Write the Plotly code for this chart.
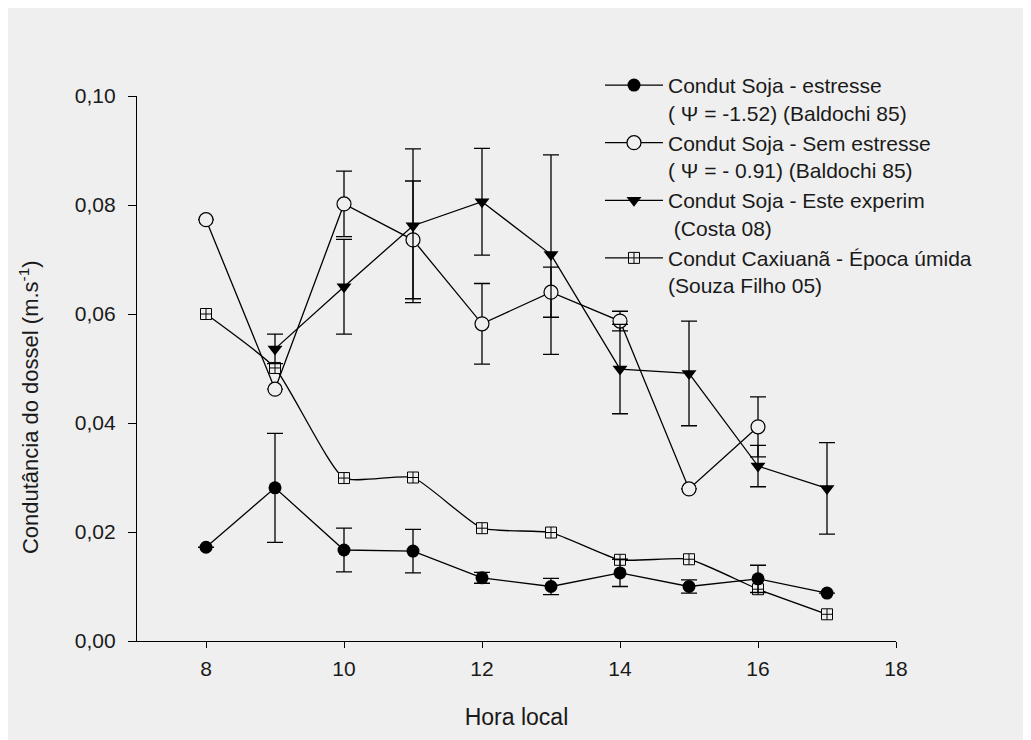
import plotly.graph_objects as go

# Hora local
horas = [8, 9, 10, 11, 12, 13, 14, 15, 16, 17]

# Condut Soja - estresse (Baldochi 85)
estresse = [0.0172, 0.0281, 0.0167, 0.0165, 0.0116, 0.0100, 0.0125, 0.0100, 0.0114, 0.0088]
estresse_err = [None, 0.0100, 0.0040, 0.0040, 0.0010, 0.0015, 0.0025, 0.0012, 0.0025, None]

# Condut Soja - Sem estresse (Baldochi 85)
horas_sem = [8, 9, 10, 11, 12, 13, 14, 15, 16]
sem_estresse = [0.0773, 0.0462, 0.0802, 0.0736, 0.0582, 0.0640, 0.0587, 0.0279, 0.0393]
sem_estresse_err = [None, None, 0.0060, 0.0108, 0.0074, 0.0046, 0.0018, None, 0.0055]

# Condut Soja - Este experim (Costa 08)
horas_exp = [9, 10, 11, 12, 13, 14, 15, 16, 17]
experim = [0.0536, 0.0650, 0.0762, 0.0806, 0.0709, 0.0499, 0.0491, 0.0321, 0.0280]
experim_err = [0.0027, 0.0087, 0.0141, 0.0098, 0.0183, 0.0082, 0.0096, 0.0038, 0.0084]

# Condut Caxiuana - Epoca umida (Souza Filho 05)
caxiuana = [0.0600, 0.0501, 0.0299, 0.0300, 0.0207, 0.0199, 0.0149, 0.0150, 0.0095, 0.0049]

BG = "#efefef"
FONT = "Liberation Sans, Arial, sans-serif"
COR_TEXTO = "#1a1a1a"
LINHA = dict(color="black", width=1.3)


def barra(erros):
    return dict(type="data", array=erros, visible=True, color="black",
                thickness=1.3, width=8)


fig = go.Figure()

fig.add_trace(go.Scatter(
    x=horas, y=caxiuana,
    name="Condut Caxiuanã - Época úmida<br>(Souza Filho 05)",
    legendrank=4,
    mode="lines+markers",
    line=dict(color="black", width=1.3, shape="spline", smoothing=0.5),
    marker=dict(symbol="square-cross", size=11, color=BG,
                line=dict(color="black", width=1)),
))

fig.add_trace(go.Scatter(
    x=horas, y=estresse,
    name="Condut Soja - estresse<br>( Ψ = -1.52) (Baldochi 85)",
    legendrank=1,
    mode="lines+markers",
    line=LINHA,
    marker=dict(symbol="circle", size=13, color="black"),
    error_y=barra(estresse_err),
))

fig.add_trace(go.Scatter(
    x=horas_sem, y=sem_estresse,
    name="Condut Soja - Sem estresse<br>( Ψ = - 0.91) (Baldochi 85)",
    legendrank=2,
    mode="lines+markers",
    line=LINHA,
    marker=dict(symbol="circle", size=14, color=BG,
                line=dict(color="black", width=1.2)),
    error_y=barra(sem_estresse_err),
))

fig.add_trace(go.Scatter(
    x=horas_exp, y=experim,
    name="Condut Soja - Este experim<br>\u00a0(Costa 08)",
    legendrank=3,
    mode="lines+markers",
    line=LINHA,
    marker=dict(symbol="triangle-down", size=13, color="black"),
    error_y=barra(experim_err),
))

fig.update_traces(cliponaxis=False)

fig.add_annotation(
    text="Condutância do dossel (m.s<sup>-1</sup>)",
    textangle=-90, xref="paper", yref="paper",
    x=-0.143, y=0.43, xanchor="center", yanchor="middle",
    showarrow=False, font=dict(family=FONT, size=22, color=COR_TEXTO),
)

fig.update_layout(
    width=1023, height=732,
    margin=dict(l=129, r=135, t=88, b=99),
    paper_bgcolor=BG,
    plot_bgcolor=BG,
    separators=",.",
    font=dict(family=FONT, size=21, color=COR_TEXTO),
    showlegend=True,
    legend=dict(
        x=0.61, y=1.057, xanchor="left", yanchor="top",
        bgcolor="rgba(0,0,0,0)",
        valign="top",
        itemwidth=58,
        font=dict(family=FONT, size=21, color=COR_TEXTO),
    ),
    xaxis=dict(
        range=[7, 18], tickvals=[8, 10, 12, 14, 16, 18],
        showline=True, linecolor="black", linewidth=1.3,
        ticks="outside", ticklen=6, tickcolor="black",
        ticklabelstandoff=3,
        showgrid=False, zeroline=False,
        title=dict(text="Hora local", standoff=29, font=dict(size=23)),
        tickfont=dict(size=21),
    ),
    yaxis=dict(
        range=[0, 0.10], tickvals=[0, 0.02, 0.04, 0.06, 0.08, 0.10],
        tickformat=".2f",
        showline=True, linecolor="black", linewidth=1.3,
        ticks="outside", ticklen=8, tickcolor="black",
        ticklabelstandoff=8,
        showgrid=False, zeroline=False,
        tickfont=dict(size=21),
    ),
)

fig.write_html("out.html")
